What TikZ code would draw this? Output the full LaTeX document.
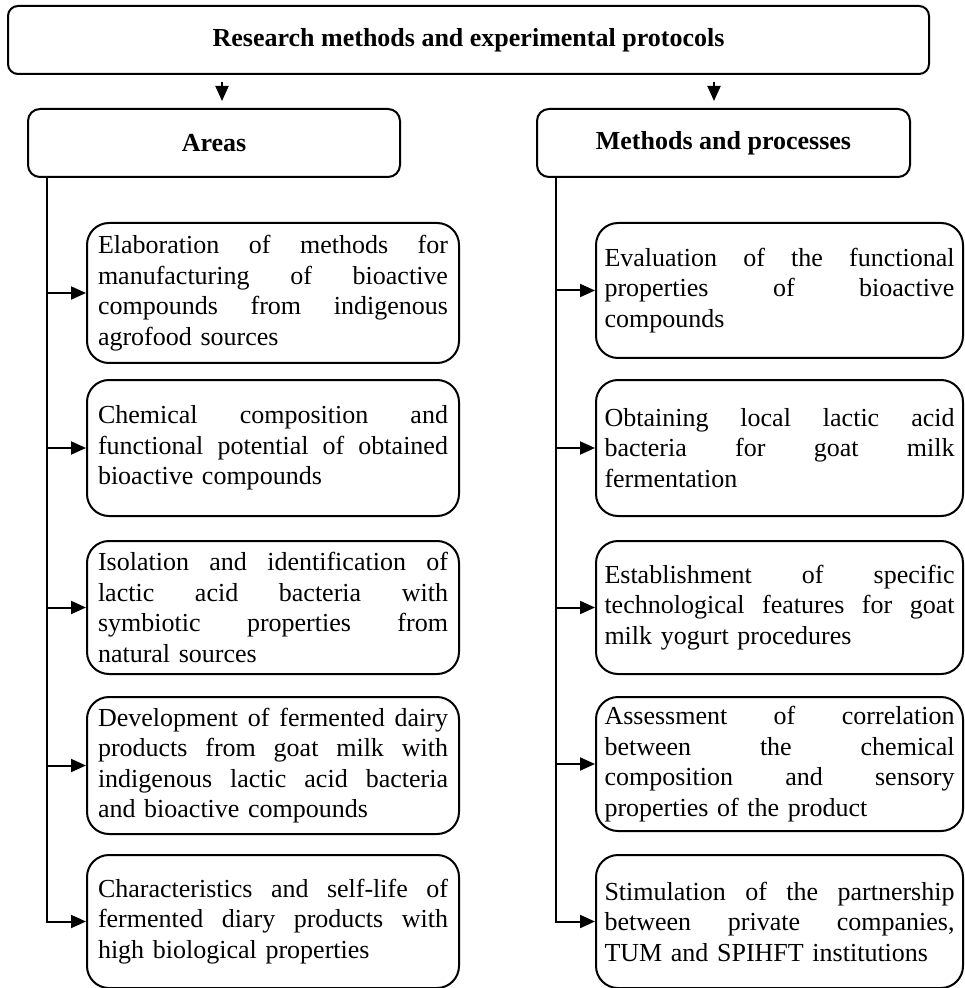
\documentclass[tikz,border=0pt]{standalone}
\usepackage{fontspec}
\setmainfont{Liberation Serif}
\usetikzlibrary{arrows.meta}
\newlength\lw \setlength\lw{175pt}
\newcommand\jl[1]{\makebox[\lw][s]{\spaceskip=0pt\xspaceskip=0pt\relax #1}}
\begin{document}
\begin{tikzpicture}[x=0.5pt,y=-0.5pt,
  txt/.style={font=\fontsize{13}{15.25}\selectfont},
  box/.style={draw, line width=1pt, anchor=north west, txt, align=left, text width=\lw, inner ysep=0pt, rounded corners=11pt},
  leftbox/.style={box, inner xsep=5.5pt},
  rightbox/.style={box, inner xsep=4.25pt},
  head/.style={draw, line width=1pt, anchor=north west, font=\fontsize{13}{15}\selectfont\bfseries, inner sep=0pt, rounded corners=6pt, minimum height=34pt},
  arr/.style={line width=1pt, line join=miter, -{Triangle[length=7.5pt,width=6.5pt]}}
]
\useasboundingbox (0,0) rectangle (964,988);
% headers
\node[head, minimum width=460.5pt, rounded corners=5pt] (top) at (7,5) {Research methods and experimental protocols};
\node[head, minimum width=186pt] (areas) at (27,108) {Areas};
\node[head, minimum width=186.5pt] (meth) at (536,108) {Methods and processes};
% left column
\node[leftbox, minimum height=70pt] (L1) at (86,222) {\jl{Elaboration of methods for}\\\jl{manufacturing of bioactive}\\\jl{compounds from indigenous}\\agrofood sources};
\node[leftbox, minimum height=68pt] (L2) at (86,379) {\jl{Chemical composition and}\\\jl{functional potential of obtained}\\bioactive compounds};
\node[leftbox, minimum height=66.5pt] (L3) at (86,540) {\jl{Isolation and identification of}\\\jl{lactic acid bacteria with}\\\jl{symbiotic properties from}\\natural sources};
\node[leftbox, minimum height=68.5pt] (L4) at (86,696) {\jl{Development of fermented dairy}\\\jl{products from goat milk with}\\\jl{indigenous lactic acid bacteria}\\and bioactive compounds};
\node[leftbox, minimum height=66.5pt] (L5) at (86,854) {\jl{Characteristics and self-life of}\\\jl{fermented diary products with}\\high biological properties};
% right column
\node[rightbox, minimum height=67.5pt] (R1) at (595,222) {\jl{Evaluation of the functional}\\\jl{properties of bioactive}\\compounds};
\node[rightbox, minimum height=68pt] (R2) at (595,379) {\jl{Obtaining local lactic acid}\\\jl{bacteria for goat milk}\\fermentation};
\node[rightbox, minimum height=66.5pt] (R3) at (595,540) {\jl{Establishment of specific}\\\jl{technological features for goat}\\milk yogurt procedures};
\node[rightbox, minimum height=67pt] (R4) at (595,696) {\jl{Assessment of correlation}\\\jl{between the chemical}\\\jl{composition and sensory}\\properties of the product};
\node[rightbox, minimum height=66.5pt] (R5) at (595,854) {\jl{Stimulation of the partnership}\\\jl{between private companies,}\\TUM and SPIHFT institutions};
% connectors
\coordinate (a1) at (222,0);
\coordinate (a2) at (714,0);
\coordinate (lx) at (47,0);
\coordinate (rx) at (556,0);
\draw[arr, shorten <=3.5pt, shorten >=3.5pt] (top.south -| a1) -- (areas.north -| a1);
\draw[arr, shorten <=3.5pt, shorten >=3.5pt] (top.south -| a2) -- (meth.north -| a2);
\draw[arr] (areas.south -| lx) |- (L5.west);
\draw[arr] (meth.south -| rx) |- (R5.west);
\foreach \n in {L1,L2,L3,L4} \draw[arr] (\n.west -| lx) -- (\n.west);
\foreach \n in {R1,R2,R3,R4} \draw[arr] (\n.west -| rx) -- (\n.west);
\end{tikzpicture}
\end{document}
